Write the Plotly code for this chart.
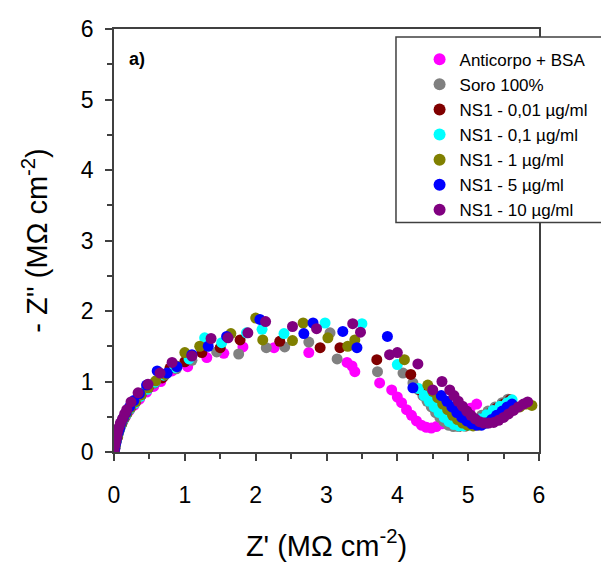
import plotly.graph_objects as go

# ---- data ----
series_names = ["Anticorpo + BSA", "Soro 100%", "NS1 - 0,01 µg/ml", "NS1 - 0,1 µg/ml",
                "NS1 - 1 µg/ml", "NS1 - 5 µg/ml", "NS1 - 10 µg/ml"]
series_colors = ["#FF00FF", "#808080", "#800000", "#00FFFF", "#808000", "#0000FF", "#800080"]

anticorpo_x = [0.0, 0.01, 0.02, 0.03, 0.04, 0.05, 0.07, 0.09, 0.12, 0.16, 0.21, 0.28, 0.36, 0.46, 0.56, 0.66,
               0.82, 1.04, 1.31, 1.55, 1.82, 2.26, 2.75, 3.29, 3.36, 3.40, 3.75, 3.92, 4.00, 4.06, 4.13, 4.20,
               4.27, 4.34, 4.41, 4.48, 4.55, 4.63, 4.72, 4.82, 4.93, 5.03, 5.12]
anticorpo_y = [0.0, 0.04, 0.09, 0.14, 0.19, 0.24, 0.30, 0.36, 0.43, 0.50, 0.58, 0.66, 0.75, 0.85, 0.93, 1.00,
               1.15, 1.21, 1.34, 1.40, 1.49, 1.48, 1.41, 1.27, 1.22, 1.14, 0.98, 0.88, 0.78, 0.70, 0.60, 0.52,
               0.44, 0.38, 0.35, 0.34, 0.36, 0.40, 0.45, 0.51, 0.57, 0.62, 0.68]

soro_x = [0.0, 0.01, 0.02, 0.03, 0.04, 0.06, 0.08, 0.10, 0.13, 0.17, 0.22, 0.28, 0.36, 0.45, 0.56, 0.70,
          0.88, 1.10, 1.45, 1.76, 2.15, 2.41, 2.75, 3.05, 3.15, 3.72, 4.08, 4.22, 4.30, 4.36, 4.42, 4.48,
          4.54, 4.60, 4.66, 4.72, 4.79, 4.86, 4.94, 5.02, 5.10, 5.19, 5.28, 5.38, 5.48, 5.56]
soro_y = [0.0, 0.05, 0.10, 0.15, 0.20, 0.26, 0.32, 0.38, 0.45, 0.52, 0.60, 0.68, 0.78, 0.88, 0.97, 1.07,
          1.18, 1.30, 1.42, 1.39, 1.48, 1.49, 1.56, 1.69, 1.32, 1.14, 1.12, 0.98, 0.88, 0.80, 0.72, 0.64,
          0.56, 0.49, 0.43, 0.38, 0.36, 0.36, 0.37, 0.40, 0.45, 0.52, 0.58, 0.64, 0.70, 0.75]

ns1_001_x = [0.0, 0.01, 0.02, 0.03, 0.05, 0.06, 0.08, 0.11, 0.14, 0.18, 0.23, 0.30, 0.38, 0.48, 0.58, 0.68,
             0.79, 1.00, 1.24, 1.50, 1.78, 2.34, 2.91, 3.19, 3.71, 4.19, 4.32, 4.40, 4.47, 4.54, 4.61, 4.68,
             4.75, 4.82, 4.89, 4.97, 5.05, 5.13, 5.22, 5.31, 5.40, 5.50, 5.59]
ns1_001_y = [0.0, 0.05, 0.10, 0.16, 0.21, 0.27, 0.33, 0.40, 0.47, 0.54, 0.62, 0.70, 0.80, 0.90, 0.99, 1.05,
             1.19, 1.28, 1.41, 1.48, 1.59, 1.57, 1.48, 1.48, 1.31, 1.10, 0.88, 0.80, 0.72, 0.64, 0.56, 0.49,
             0.43, 0.39, 0.37, 0.37, 0.39, 0.43, 0.49, 0.55, 0.62, 0.68, 0.74]

ns1_01_x = [0.0, 0.01, 0.02, 0.03, 0.04, 0.06, 0.08, 0.10, 0.13, 0.17, 0.22, 0.29, 0.37, 0.47, 0.58, 0.70,
            0.86, 1.06, 1.28, 1.52, 1.87, 2.09, 2.40, 2.98, 3.50, 4.00, 4.30, 4.38, 4.45, 4.52, 4.59, 4.66,
            4.73, 4.80, 4.87, 4.94, 5.01, 5.09, 5.17, 5.26, 5.35, 5.45, 5.55, 5.62]
ns1_01_y = [0.0, 0.05, 0.10, 0.15, 0.21, 0.27, 0.33, 0.39, 0.46, 0.53, 0.61, 0.69, 0.79, 0.89, 0.99, 1.09,
            1.20, 1.32, 1.62, 1.55, 1.69, 1.74, 1.68, 1.83, 1.82, 1.24, 0.90, 0.80, 0.72, 0.64, 0.56, 0.49,
            0.43, 0.39, 0.37, 0.37, 0.38, 0.42, 0.47, 0.53, 0.59, 0.65, 0.70, 0.74]

ns1_1_x = [0.0, 0.01, 0.02, 0.03, 0.05, 0.06, 0.08, 0.11, 0.14, 0.18, 0.23, 0.30, 0.38, 0.48, 0.59, 0.72,
           0.88, 1.00, 1.21, 1.65, 2.00, 2.10, 2.52, 2.67, 3.02, 3.30, 3.40, 4.10, 4.43, 4.50, 4.57, 4.64,
           4.71, 4.78, 4.85, 4.92, 4.99, 5.07, 5.15, 5.24, 5.33, 5.43, 5.53, 5.63, 5.73, 5.82, 5.90]
ns1_1_y = [0.0, 0.05, 0.10, 0.16, 0.22, 0.28, 0.34, 0.41, 0.48, 0.55, 0.63, 0.71, 0.81, 0.91, 1.01, 1.10,
           1.22, 1.41, 1.50, 1.68, 1.90, 1.59, 1.58, 1.83, 1.62, 1.50, 1.59, 1.31, 0.95, 0.86, 0.77, 0.68,
           0.60, 0.52, 0.46, 0.41, 0.38, 0.37, 0.38, 0.41, 0.45, 0.50, 0.55, 0.60, 0.64, 0.68, 0.66]

ns1_5_x = [0.0, 0.01, 0.02, 0.03, 0.04, 0.06, 0.08, 0.10, 0.13, 0.17, 0.22, 0.28, 0.36, 0.46, 0.61, 0.75,
           0.89, 1.10, 1.33, 1.59, 2.06, 2.68, 2.81, 3.23, 3.43, 3.86, 4.22, 4.62, 4.70, 4.77, 4.84, 4.91,
           4.98, 5.05, 5.12, 5.19, 5.26, 5.33, 5.40, 5.48, 5.55, 5.62]
ns1_5_y = [0.0, 0.05, 0.11, 0.16, 0.22, 0.28, 0.34, 0.41, 0.48, 0.56, 0.64, 0.73, 0.83, 0.95, 1.15, 1.12,
           1.21, 1.38, 1.50, 1.64, 1.88, 1.68, 1.83, 1.71, 1.48, 1.64, 0.91, 0.80, 0.72, 0.64, 0.56, 0.49,
           0.44, 0.40, 0.38, 0.38, 0.41, 0.46, 0.52, 0.58, 0.64, 0.68]

ns1_10_x = [0.0, 0.0, 0.01, 0.02, 0.03, 0.04, 0.05, 0.07, 0.09, 0.12, 0.15, 0.18, 0.24, 0.34, 0.48, 0.65,
            0.82, 1.10, 1.37, 1.61, 1.89, 2.14, 2.52, 2.86, 3.37, 3.48, 3.89, 4.00, 4.29, 4.50, 4.63, 4.74,
            4.80, 4.86, 4.92, 4.98, 5.04, 5.10, 5.16, 5.22, 5.29, 5.36, 5.43, 5.50, 5.57, 5.64, 5.71, 5.78, 5.84]
ns1_10_y = [0.0, 0.04, 0.09, 0.14, 0.19, 0.24, 0.29, 0.35, 0.41, 0.47, 0.54, 0.60, 0.71, 0.84, 0.96, 1.12,
            1.27, 1.36, 1.61, 1.62, 1.69, 1.85, 1.78, 1.75, 1.82, 1.70, 1.38, 1.41, 1.25, 0.88, 1.00, 0.88,
            0.80, 0.72, 0.65, 0.58, 0.52, 0.47, 0.43, 0.41, 0.41, 0.42, 0.45, 0.49, 0.54, 0.59, 0.64, 0.68, 0.71]

axis_ticks = [0, 1, 2, 3, 4, 5, 6]

series_x = [anticorpo_x, soro_x, ns1_001_x, ns1_01_x, ns1_1_x, ns1_5_x, ns1_10_x]
series_y = [anticorpo_y, soro_y, ns1_001_y, ns1_01_y, ns1_1_y, ns1_5_y, ns1_10_y]

FONT = "Liberation Sans, Arial, sans-serif"

fig = go.Figure()
for i, (name, col, xs, ys) in enumerate(zip(series_names, series_colors, series_x, series_y)):
    fig.add_trace(go.Scatter(
        x=xs, y=ys, mode="markers", name=name, legendgroup=f"g{i}",
        marker=dict(color=col, size=11, line=dict(width=0)),
    ))

axis_common = dict(
    range=[0, 6], tickvals=axis_ticks, ticktext=[str(t) for t in axis_ticks],
    ticks="outside", ticklen=7, tickwidth=1.5, tickcolor="#404040",
    minor=dict(dtick=0.5, ticks="outside", ticklen=5, tickwidth=1.5, tickcolor="#404040"),
    showline=True, linecolor="#404040", linewidth=1.5, mirror=True,
    showgrid=False, zeroline=False, automargin=False,
    tickfont=dict(family=FONT, size=23, color="black"),
)

fig.update_xaxes(**axis_common,
                 ticklabelstandoff=15,
                 title=dict(text="Z' (MΩ cm<sup>-2</sup>)", font=dict(family=FONT, size=29, color="black"),
                            standoff=28))
fig.update_yaxes(**axis_common,
                 ticklabelstandoff=7,
                 title=dict(text="- Z'' (MΩ cm<sup>-2</sup>)", font=dict(family=FONT, size=29, color="black"),
                            standoff=25))

# legend frame
fig.add_shape(type="rect", xref="paper", yref="paper",
              x0=0.6635, x1=1.25, y0=0.5425, y1=0.981,
              line=dict(color="#404040", width=1.5), fillcolor="white", layer="above")

fig.add_annotation(text="<b>a)</b>", xref="paper", yref="paper", x=0.03, y=0.929,
                   xanchor="left", yanchor="middle", showarrow=False,
                   font=dict(family=FONT, size=18, color="black"))

fig.update_layout(
    width=609, height=565,
    margin=dict(l=106, r=78, t=21, b=121),
    paper_bgcolor="white", plot_bgcolor="white",
    showlegend=True,
    legend=dict(x=0.719, y=0.97, xanchor="left", yanchor="top",
                bgcolor="rgba(0,0,0,0)", borderwidth=0,
                font=dict(family=FONT, size=17, color="black"),
                tracegroupgap=0, itemsizing="constant"),
)

fig.write_html("out.html")
